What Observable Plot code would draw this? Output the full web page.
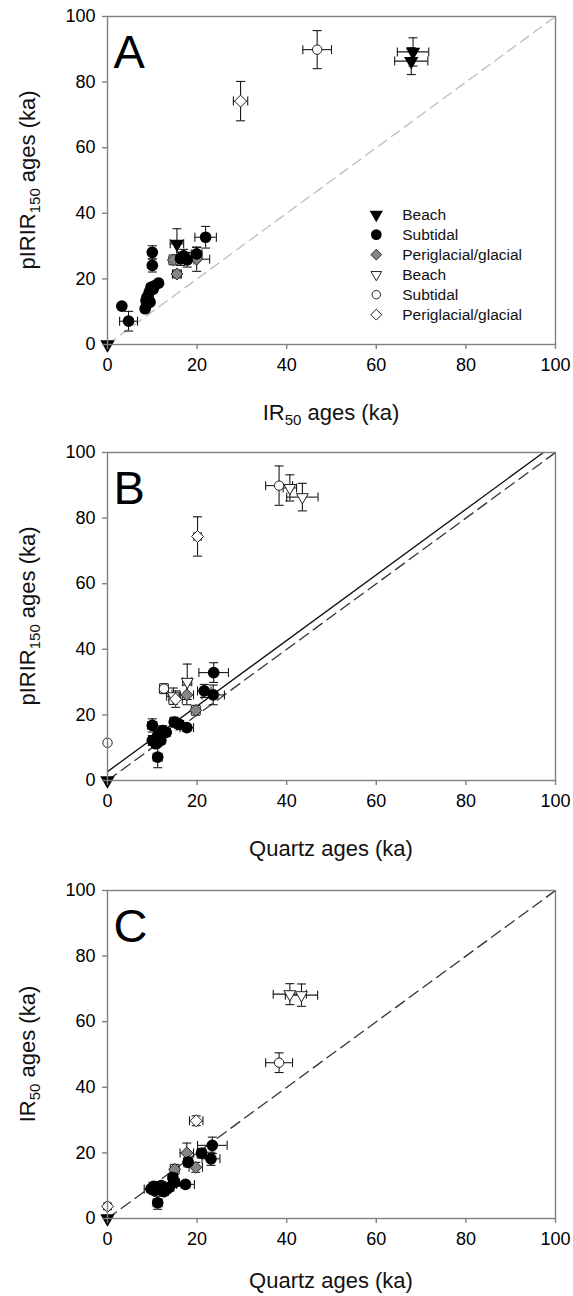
<!DOCTYPE html>
<html><head><meta charset="utf-8">
<script src="https://cdn.jsdelivr.net/npm/d3@7"></script>
<script src="https://cdn.jsdelivr.net/npm/@observablehq/plot@0.6"></script>
<style>body{margin:0;background:#fff} svg{display:block}</style>
</head><body><div id="chart"></div>
<script>
// ---- tick values
const axisTicks = [0, 20, 40, 60, 80, 100];

// ---- data: [x, y, xErr, yErr]
// Panel A: IR50 (x) vs pIRIR150 (y)
const A_beachFilled = [[0,0,0,0],[15.5,30.7,1.5,4.6],[68.2,89.2,3.5,4.3],[67.8,86.4,3.7,4.1]];
const A_subtidalFilled = [[3.2,11.7,0.5,0.8],[4.7,7.1,2,3],[8.4,10.9,0.6,1],[8.8,12.4,0.6,1],[9.1,13.9,0.6,1.2],[9.3,15.9,0.7,1.2],[9.7,17.4,0.7,1.2],[10.2,16.9,0.6,1],[8.8,14.4,0.5,1],[9.5,12.9,0.5,1],[8.6,13.4,0.5,1],[10.5,17.9,0.6,1],[11.4,18.7,0.7,1],[10,28.1,0.6,2],[10,24.1,0.6,2],[16.3,26.1,1.2,2],[17.8,25.8,1.5,2.2],[17,27,1.2,2],[19.9,27.6,1.2,2],[21.9,32.7,2.4,3.3]];
const A_periFilled = [[14.7,25.8,1,1.5],[15.5,21.5,1,1.2],[19.9,26,2.9,3.7]];
const A_beachOpen = [];
const A_subtidalOpen = [[46.8,89.9,3.2,5.8]];
const A_periOpen = [[29.7,74.2,1.6,6]];

// Panel B: Quartz (x) vs pIRIR150 (y)
const B_beachFilled = [[0,0,0,0]];
const B_subtidalFilled = [[10,16.8,1,2],[11.2,7.1,1,3.2],[10,12.2,0.8,1.5],[11.2,13.7,0.8,1.5],[12.3,15.2,0.8,1.5],[13.1,14.7,0.8,1.2],[10.8,11.2,0.8,1.2],[11.9,12.2,0.8,1.2],[14.9,17.8,1,1.5],[16,17.1,1,1.2],[17.7,16.1,1.5,1],[23.7,32.9,3.3,3],[21.6,27.3,1.5,2],[23.6,26.1,2.5,3]];
const B_periFilled = [[17.7,26.1,1.5,3],[19.7,21.4,1,1.5]];
const B_beachOpen = [[14.7,25.7,1.5,2.5],[17.8,30.1,1,5.4],[40.7,89.2,1.5,4],[43.5,86.4,3.5,4.2]];
const B_subtidalOpen = [[0,11.5,0,0],[12.6,28,1,1.5],[38.3,89.9,3,6]];
const B_periOpen = [[20.1,74.4,0.8,6],[15.2,24.8,1.5,2.5]];
const B_regression = [2.7, 1.0]; // intercept, slope

// Panel C: Quartz (x) vs IR50 (y)
const C_beachFilled = [[0,0,0,0]];
const C_subtidalFilled = [[23.4,22.3,3.3,2.5],[23.1,18.2,2,2],[21,19.9,1,1.5],[18,17.2,1,1.5],[14.6,12.5,1,1.2],[17.4,10.4,2,1],[9.7,9,1.5,1],[11.3,9.5,1,1],[12.6,8.2,1,1],[13.8,9.5,1,1],[15,11,1,1],[11.2,4.8,1,2],[10.5,8.5,1,1],[12,10,1,1],[13,8.8,1,1],[10.3,9.8,1,1]];
const C_periFilled = [[17.7,20,1.5,3],[19.7,15.6,1.5,1.5],[15,15,1,1.5]];
const C_beachOpen = [[40.7,68.4,3.7,3.2],[43.3,68.1,3.6,3.4]];
const C_subtidalOpen = [[38.3,47.5,3,3]];
const C_periOpen = [[0,3.7,0.5,1],[19.8,29.8,1.5,1.5]];

// ---- legend
const legendLabels = ["Beach","Subtidal","Periglacial/glacial","Beach","Subtidal","Periglacial/glacial"];
const legendKeys = ["beachFilled","subtidalFilled","periFilled","beachOpen","subtidalOpen","periOpen"];

// ---- labels: [text, isSubscript]
const labelIR50 = [["IR",0],["50",1],[" ages (ka)",0]];
const labelPIRIR = [["pIRIR",0],["150",1],[" ages (ka)",0]];
const labelQuartz = [["Quartz ages (ka)",0]];

const FONT = "'Liberation Sans', Arial, Helvetica, sans-serif";
const toRows = arr => arr.map(([x,y,ex,ey]) => ({x,y,ex,ey}));

const capH = {draw(ctx){ ctx.moveTo(-4.5,0); ctx.lineTo(4.5,0); }};
const capV = {draw(ctx){ ctx.moveTo(0,-4.5); ctx.lineTo(0,4.5); }};

const styles = {
  beachFilled:   {symbol:"triangle", rotate:180, fill:"black", stroke:"black", r:4.4},
  subtidalFilled:{symbol:"circle", fill:"black", stroke:"black", r:5.1},
  periFilled:    {symbol:"diamond2", fill:"#858585", stroke:"#2a2a2a", strokeWidth:1, r:5.4},
  beachOpen:     {symbol:"triangle", rotate:180, fill:"white", stroke:"#222", strokeWidth:1, r:4.4},
  subtidalOpen:  {symbol:"circle", fill:"white", stroke:"#222", strokeWidth:1, r:4.7},
  periOpen:      {symbol:"diamond2", fill:"white", stroke:"#222", strokeWidth:1, r:5.4}
};

function errorMarks(rows){
  const ey = rows.filter(d => d.ey > 0), ex = rows.filter(d => d.ex > 0);
  const s = {stroke:"#1a1a1a", strokeWidth:1.1};
  return [
    Plot.ruleX(ey, {x:"x", y1:d=>d.y-d.ey, y2:d=>d.y+d.ey, ...s}),
    Plot.ruleY(ex, {y:"y", x1:d=>d.x-d.ex, x2:d=>d.x+d.ex, ...s}),
    Plot.dot(ey, {x:"x", y:d=>d.y+d.ey, symbol:capH, fill:"none", ...s}),
    Plot.dot(ey, {x:"x", y:d=>d.y-d.ey, symbol:capH, fill:"none", ...s}),
    Plot.dot(ex, {x:d=>d.x+d.ex, y:"y", symbol:capV, fill:"none", ...s}),
    Plot.dot(ex, {x:d=>d.x-d.ex, y:"y", symbol:capV, fill:"none", ...s})
  ];
}

function addLabel(sel, parts){
  parts.forEach(([t, sub], i) => {
    const ts = sel.append("tspan").text(t);
    if (sub) ts.attr("dy", 5).style("font-size", "15px");
    else if (i > 0 && parts[i-1][1]) ts.attr("dy", -5);
  });
}

function panel(o){
  const marks = [];
  marks.push(...o.lines);
  const order = ["periFilled","subtidalFilled","beachFilled","beachOpen","subtidalOpen","periOpen"];
  for (const k of order) marks.push(...errorMarks(toRows(o.series[k])));
  for (const k of order) marks.push(Plot.dot(toRows(o.series[k]), {x:"x", y:"y", ...styles[k]}));
  if (o.legend) {
    legendKeys.forEach((k, i) => {
      marks.push(Plot.dot([i], {x: 60, y: 39.6 - i*6.1, ...styles[k], r: styles[k].r * 0.9}));
    });
    marks.push(Plot.text(legendLabels, {x: 65.8, y: (d,i) => 39.6 - i*6.1, text: d => d, textAnchor:"start", fontSize:15.5, fill:"#111"}));
  }
  marks.push(Plot.frame({stroke:"#808080", strokeWidth:1.4}));
  marks.push(Plot.axisX(axisTicks, {tickSize:5, tickPadding:9, stroke:"#808080", strokeWidth:1.4, fontSize:18, label:null}));
  marks.push(Plot.axisY(axisTicks, {tickSize:5, tickPadding:7, stroke:"#808080", strokeWidth:1.4, fontSize:18, label:null}));
  marks.push(Plot.text([o.letter], {frameAnchor:"top-left", dx:6, dy:51, lineAnchor:"bottom", textAnchor:"start", fontSize:47, fill:"black"}));

  const node = Plot.plot({
    width: 573, height: o.H,
    marginLeft: 107, marginRight: 18, marginTop: o.mt, marginBottom: o.mb,
    x: {domain:[0,100]}, y: {domain:[0,100]},
    style: {fontFamily: FONT, fontSize: "18px", color: "black", background: "white", overflow: "visible"},
    marks
  });
  const svg = d3.select(node);
  const cx = node.scale("x").apply(50), cy = node.scale("y").apply(50);
  const xt = svg.append("text").attr("x", cx).attr("y", o.H - o.mb + o.titleOff)
    .attr("text-anchor","middle").attr("fill","#111")
    .style("font-family", FONT).style("font-size","22px");
  addLabel(xt, o.xLabel);
  const yt = svg.append("text").attr("transform", `translate(35,${cy}) rotate(-90)`)
    .attr("text-anchor","middle").attr("fill","#111")
    .style("font-family", FONT).style("font-size","22px");
  addLabel(yt, o.yLabel);
  return node;
}

const oneToOne = [{x:0,y:0},{x:100,y:100}];
const regLine = [{x:0, y:B_regression[0]}, {x:(100-B_regression[0])/B_regression[1], y:100}];

const root = document.getElementById("chart");
root.appendChild(panel({
  letter:"A", H:436, mt:16, mb:92, legend:true, titleOff:76,
  xLabel: labelIR50, yLabel: labelPIRIR,
  lines: [Plot.line(oneToOne, {x:"x", y:"y", stroke:"#bdbdbd", strokeWidth:1.3, strokeDasharray:"10,6"})],
  series: {beachFilled:A_beachFilled, subtidalFilled:A_subtidalFilled, periFilled:A_periFilled, beachOpen:A_beachOpen, subtidalOpen:A_subtidalOpen, periOpen:A_periOpen}
}));
root.appendChild(panel({
  letter:"B", H:436, mt:16, mb:92, titleOff:76,
  xLabel: labelQuartz, yLabel: labelPIRIR,
  lines: [
    Plot.line(regLine, {x:"x", y:"y", stroke:"#111", strokeWidth:1.3}),
    Plot.line(oneToOne, {x:"x", y:"y", stroke:"#333", strokeWidth:1.3, strokeDasharray:"11,6"})
  ],
  series: {beachFilled:B_beachFilled, subtidalFilled:B_subtidalFilled, periFilled:B_periFilled, beachOpen:B_beachOpen, subtidalOpen:B_subtidalOpen, periOpen:B_periOpen}
}));
root.appendChild(panel({
  letter:"C", H:424, mt:18, mb:78, titleOff:70,
  xLabel: labelQuartz, yLabel: labelIR50,
  lines: [Plot.line(oneToOne, {x:"x", y:"y", stroke:"#333", strokeWidth:1.3, strokeDasharray:"11,6"})],
  series: {beachFilled:C_beachFilled, subtidalFilled:C_subtidalFilled, periFilled:C_periFilled, beachOpen:C_beachOpen, subtidalOpen:C_subtidalOpen, periOpen:C_periOpen}
}));
</script></body></html>
